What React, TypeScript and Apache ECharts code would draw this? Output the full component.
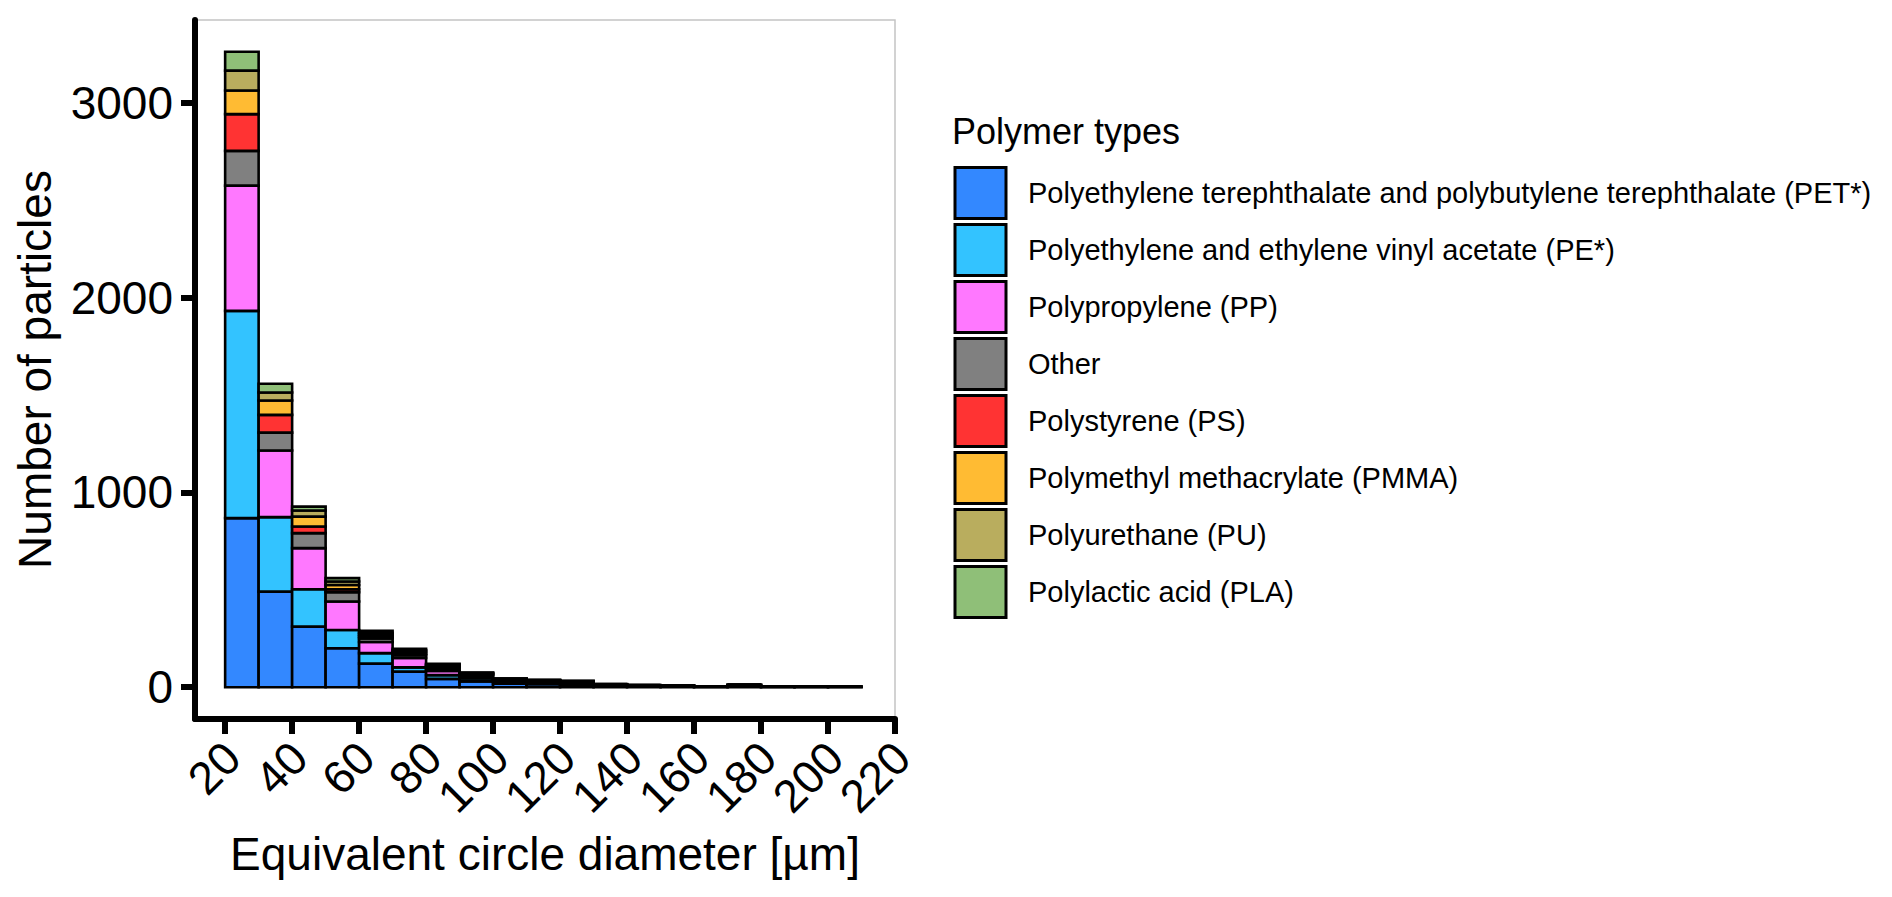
import React, { useEffect, useRef } from "react";
import * as echarts from "echarts";

// ---- data ----
const BIN_WIDTH = 10;
const binStarts = [20, 30, 40, 50, 60, 70, 80, 90, 100, 110, 120, 130, 140, 150, 160, 170, 180, 190, 200];

const polymerNames = [
  "Polyethylene terephthalate and polybutylene terephthalate (PET*)",
  "Polyethylene and ethylene vinyl acetate (PE*)",
  "Polypropylene (PP)",
  "Other",
  "Polystyrene (PS)",
  "Polymethyl methacrylate (PMMA)",
  "Polyurethane (PU)",
  "Polylactic acid (PLA)",
];
const polymerColors = ["#3388FF", "#33C3FF", "#FF78FF", "#808080", "#FF3333", "#FFBB33", "#B9AD5E", "#8FBF78"];

const pet = [868, 491, 311, 200, 121, 80, 43, 30, 18, 15, 13, 7, 5, 4, 2, 5, 2, 2, 2];
const pe = [1064, 382, 192, 94, 54, 22, 19, 15, 10, 9, 8, 4, 3, 3, 1, 4, 2, 1, 1];
const pp = [643, 342, 211, 146, 57, 48, 22, 12, 7, 6, 5, 2, 1, 1, 1, 2, 1, 1, 1];
const other = [178, 92, 77, 48, 18, 15, 13, 7, 4, 3, 3, 1, 1, 1, 1, 1, 0, 1, 0];
const ps = [189, 91, 34, 15, 10, 7, 7, 4, 2, 2, 1, 1, 0, 1, 0, 0, 0, 0, 0];
const pmma = [121, 74, 51, 22, 10, 10, 7, 3, 2, 1, 1, 0, 1, 0, 0, 1, 0, 0, 0];
const pu = [102, 41, 31, 18, 10, 8, 5, 3, 1, 1, 1, 1, 0, 0, 0, 0, 0, 0, 0];
const pla = [97, 45, 20, 17, 10, 7, 4, 2, 1, 1, 1, 0, 0, 0, 0, 0, 0, 0, 0];

const seriesValues = [pet, pe, pp, other, ps, pmma, pu, pla];

const xTicks = [20, 40, 60, 80, 100, 120, 140, 160, 180, 200, 220];
const yTicks = [0, 1000, 2000, 3000];

const xTitle = "Equivalent circle diameter [µm]";
const yTitle = "Number of particles";
const legendTitle = "Polymer types";

// ---- layout ----
const W = 1892;
const H = 897;
const GRID_LEFT = 195;
const GRID_RIGHT = 997;
const GRID_TOP = 20;
const GRID_BOTTOM = 178;
const X_MIN = 11;
const X_MAX = 220;
const Y_MIN = -163;
const Y_MAX = 3425;
const FONT = "'Liberation Sans', Arial, Helvetica, sans-serif";
const BAR_BORDER = 2.6;

export default function App() {
  const ref = useRef<HTMLDivElement>(null);

  useEffect(() => {
    if (!ref.current) return;
    const chart = echarts.init(ref.current, undefined, { renderer: "svg" });

    // cumulative stacking (histogram, stacked)
    const cum = binStarts.map(() => 0);
    const series = seriesValues.map((vals, si) => {
      const data = vals.map((v, i) => {
        const base = cum[i];
        cum[i] = base + v;
        return [binStarts[i], binStarts[i] + BIN_WIDTH, base, base + v];
      });
      const color = polymerColors[si];
      return {
        name: polymerNames[si],
        type: "custom",
        itemStyle: { color, borderColor: "#000", borderWidth: 3 },
        encode: { x: [0, 1], y: [2, 3] },
        data,
        renderItem: (params: any, api: any) => {
          const p0 = api.coord([api.value(0), api.value(3)]);
          const p1 = api.coord([api.value(1), api.value(2)]);
          return {
            type: "rect",
            shape: { x: p0[0], y: p0[1], width: p1[0] - p0[0], height: p1[1] - p0[1] },
            style: { fill: color, stroke: "#000", lineWidth: BAR_BORDER },
          };
        },
      };
    });

    chart.setOption({
      animation: false,
      backgroundColor: "#fff",
      textStyle: { fontFamily: FONT },
      grid: {
        left: GRID_LEFT,
        right: GRID_RIGHT,
        top: GRID_TOP,
        bottom: GRID_BOTTOM,
        show: true,
        borderColor: "#c4c4c4",
        borderWidth: 1.5,
        backgroundColor: "transparent",
      },
      xAxis: {
        type: "value",
        min: X_MIN,
        max: X_MAX,
        name: xTitle,
        nameLocation: "middle",
        nameGap: 112,
        nameTextStyle: { fontSize: 46, color: "#000", fontFamily: FONT },
        axisLine: { show: true, onZero: false, lineStyle: { color: "#000", width: 6 } },
        axisTick: { show: true, length: 15, customValues: xTicks, lineStyle: { color: "#000", width: 6 } },
        axisLabel: {
          customValues: xTicks,
          rotate: 45,
          margin: 38,
          fontSize: 46,
          color: "#000",
          fontFamily: FONT,
          formatter: (v: number) => String(v),
          padding: [0, -10, 0, 0],
        },
        splitLine: { show: false },
      },
      yAxis: {
        type: "value",
        min: Y_MIN,
        max: Y_MAX,
        name: yTitle,
        nameLocation: "middle",
        nameGap: 137,
        nameTextStyle: { fontSize: 46, color: "#000", fontFamily: FONT },
        axisLine: { show: true, onZero: false, lineStyle: { color: "#000", width: 6 } },
        axisTick: { show: true, length: 14, customValues: yTicks, lineStyle: { color: "#000", width: 6 } },
        axisLabel: {
          customValues: yTicks,
          margin: 22,
          fontSize: 46,
          color: "#000",
          fontFamily: FONT,
          formatter: (v: number) => String(v),
        },
        splitLine: { show: false },
      },
      legend: {
        orient: "vertical",
        left: 953.5,
        top: 166,
        padding: 0,
        itemWidth: 51,
        itemHeight: 51,
        itemGap: 3,
        icon: "rect",
        selectedMode: false,
        itemStyle: { borderColor: "#000", borderWidth: 3 },
        textStyle: { fontSize: 29, color: "#000", fontFamily: FONT, padding: [0, 0, 0, 17] },
        data: polymerNames.map((n, i) => ({
          name: n,
          itemStyle: { color: polymerColors[i], borderColor: "#000", borderWidth: 3 },
        })),
      },
      graphic: [
        {
          type: "text",
          left: 952,
          top: 113,
          style: {
            text: legendTitle,
            fontSize: 36,
            fontFamily: FONT,
            fill: "#000",
          },
        },
      ],
      series,
    });

    return () => chart.dispose();
  }, []);

  return (
    <div
      ref={ref}
      style={{ position: "absolute", left: 0, top: 0, width: W, height: H, background: "#fff" }}
    />
  );
}
